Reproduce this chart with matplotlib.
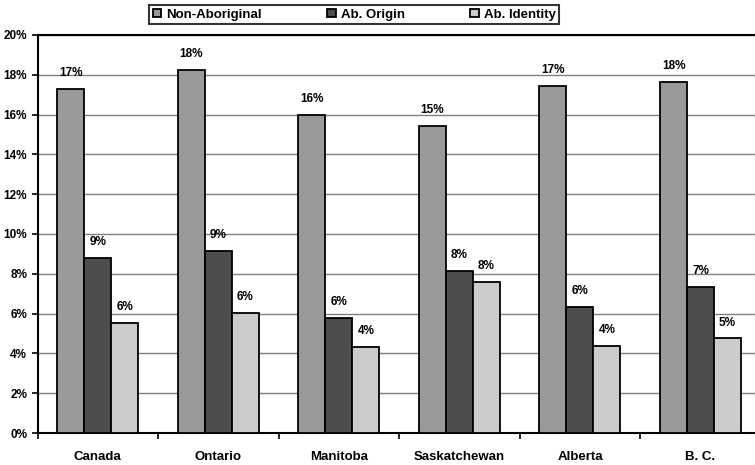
import numpy as np
import matplotlib.pyplot as plt
from matplotlib.ticker import FuncFormatter, MultipleLocator

plt.rcParams['font.family'] = ['Liberation Sans', 'DejaVu Sans']
plt.rcParams['font.weight'] = 'bold'

regions = ["Canada", "Ontario", "Manitoba", "Saskatchewan", "Alberta", "B. C."]
non_aboriginal = [17.3, 18.25, 16.0, 15.45, 17.45, 17.65]
ab_origin = [8.8, 9.15, 5.8, 8.15, 6.35, 7.35]
ab_identity = [5.55, 6.05, 4.3, 7.6, 4.35, 4.75]

series = [("Non-Aboriginal", non_aboriginal, "#999999"),
          ("Ab. Origin", ab_origin, "#4d4d4d"),
          ("Ab. Identity", ab_identity, "#cccccc")]

fig = plt.figure(figsize=(7.55, 4.65), dpi=100)
ax = fig.add_axes([0.0497, 0.0688, 0.958, 0.856])

x = np.arange(len(regions))
w = 0.224
for i, (name, vals, col) in enumerate(series):
    pos = x + (i - 1) * w
    ax.bar(pos, vals, w, color=col, edgecolor="black", linewidth=1.3,
           label=name, zorder=3)
    for px, v in zip(pos, vals):
        ax.text(px, v + 0.5, f"{round(v):.0f}%", ha="center", va="bottom",
                fontsize=8.5, fontweight="bold", zorder=4)

ax.set_ylim(0, 20)
ax.set_xlim(-0.5, len(regions) - 0.5)
ax.yaxis.set_major_locator(MultipleLocator(2))
ax.yaxis.set_major_formatter(FuncFormatter(lambda v, p: f"{v:.0f}%"))
ax.grid(axis="y", color="#808080", linewidth=1.0, zorder=0)

ax.set_xticks(x)
ax.set_xticklabels(regions, fontsize=9.5, fontweight="bold")
ax.set_xticks(np.arange(len(regions) + 1) - 0.5, minor=True)
ax.tick_params(axis="x", which="major", length=0, pad=13)
ax.tick_params(axis="x", which="minor", length=4, width=1.2, direction="out")
ax.tick_params(axis="y", length=4, width=1.2, labelsize=8.5, direction="out")

for s in ["left", "bottom", "top"]:
    ax.spines[s].set_linewidth(1.5)
    ax.spines[s].set_color("black")
ax.spines["right"].set_visible(False)

leg = fig.legend(loc="upper center", bbox_to_anchor=(0.469, 1.003), ncol=3,
                 frameon=True, fancybox=False, edgecolor="black",
                 fontsize=9.5, handlelength=0.65, handleheight=0.65,
                 handletextpad=0.35, columnspacing=5.0, borderpad=0.25)
leg.get_frame().set_linewidth(1.5)

fig.savefig("out.png", dpi=100)
